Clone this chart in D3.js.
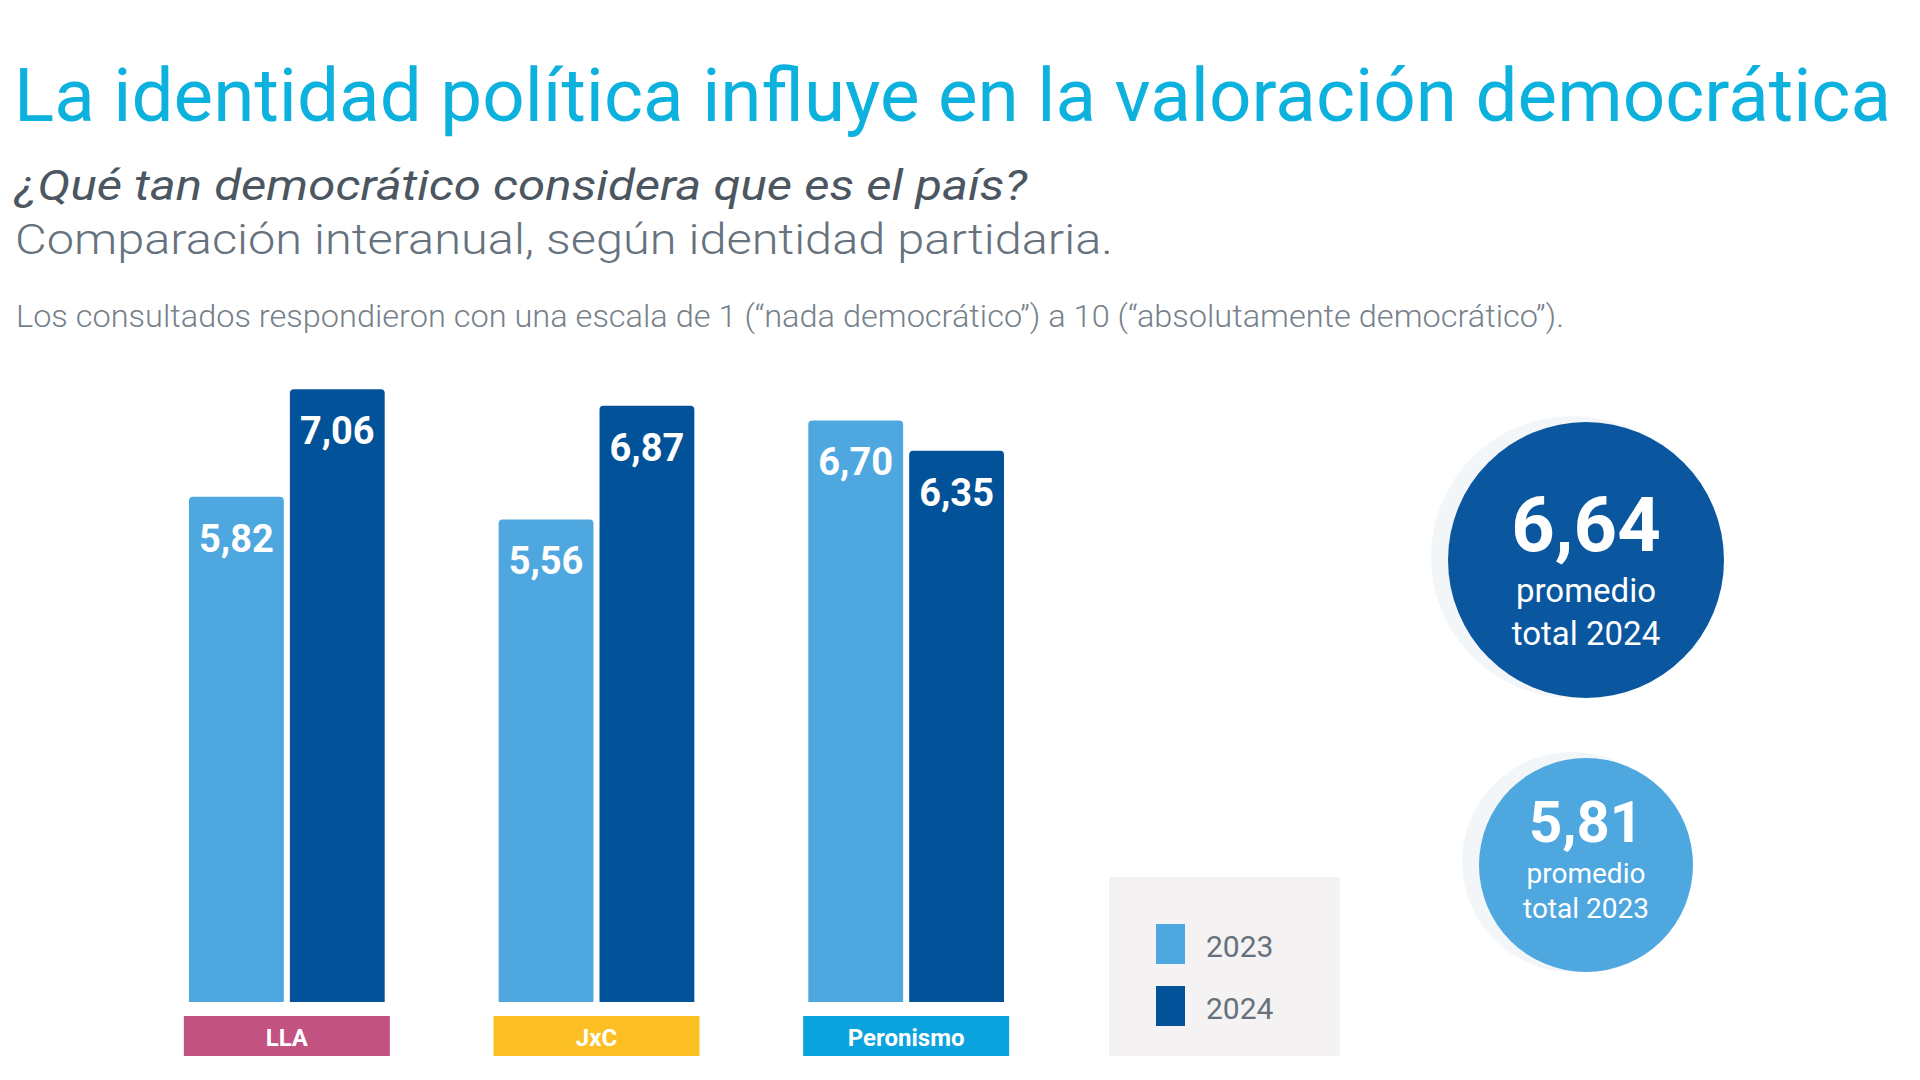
<!DOCTYPE html>
<html>
<head>
<meta charset="utf-8">
<script src="https://cdn.jsdelivr.net/npm/d3@7"></script>
<style>
  body { margin: 0; background: #fff; }
  svg { display: block; font-family: Roboto, "Noto Sans", sans-serif; }
</style>
</head>
<body>
<div id="chart"></div>
<script>
// data
var categories = ["LLA", "JxC", "Peronismo"];
var years = ["2023", "2024"];
var values2023 = [5.82, 5.56, 6.70];
var values2024 = [7.06, 6.87, 6.35];
var totalYears = ["2024", "2023"];
var totalValues = [6.64, 5.81];

var yearColor = {"2023": "#4ea8df", "2024": "#02529a"};
var catColor = {"LLA": "#c2527f", "JxC": "#fcc024", "Peronismo": "#0ba3dd"};

var locale = d3.formatLocale({decimal: ",", thousands: ".", grouping: [3], currency: ["$", ""]});
var fmt = locale.format(".2f");

var width = 1920, height = 1080;

var svg = d3.select("#chart")
  .append("svg")
    .attr("width", width)
    .attr("height", height);

// titles (reference text is a bit stretched, so fit to its width)
svg.append("text")
  .attr("x", 14).attr("y", 121)
  .attr("font-size", 75)
  .attr("fill", "#0db1de")
  .attr("textLength", 1877)
  .attr("lengthAdjust", "spacingAndGlyphs")
  .text("La identidad política influye en la valoración democrática");

svg.append("text")
  .attr("x", 15).attr("y", 200)
  .attr("font-size", 42)
  .attr("font-style", "italic")
  .attr("fill", "#4b5661")
  .attr("textLength", 1012)
  .attr("lengthAdjust", "spacingAndGlyphs")
  .text("¿Qué tan democrático considera que es el país?");

svg.append("text")
  .attr("x", 15).attr("y", 254)
  .attr("font-size", 42)
  .attr("font-weight", 300)
  .attr("fill", "#66727d")
  .attr("textLength", 1098)
  .attr("lengthAdjust", "spacingAndGlyphs")
  .text("Comparación interanual, según identidad partidaria.");

svg.append("text")
  .attr("x", 16).attr("y", 327)
  .attr("font-size", 32)
  .attr("font-weight", 300)
  .attr("fill", "#76818b")
  .attr("textLength", 1548)
  .attr("lengthAdjust", "spacingAndGlyphs")
  .text("Los consultados respondieron con una escala de 1 (“nada democrático”) a 10 (“absolutamente democrático”).");

// scales
var x0 = d3.scaleBand()
  .domain(categories)
  .range([189, 1004])
  .paddingInner(0.368);

var x1 = d3.scaleBand()
  .domain(years)
  .range([0, x0.bandwidth()])
  .paddingInner(0.06);

var y = d3.scaleLinear()
  .domain([0, 10])
  .range([1002, 134]);

var rows = categories.map(function(c, i) {
  return {cat: c, vals: [{year: "2023", v: values2023[i]}, {year: "2024", v: values2024[i]}]};
});

var groups = svg.selectAll(".grp")
  .data(rows)
  .enter()
  .append("g")
    .attr("class", "grp")
    .attr("transform", function(d) { return "translate(" + x0(d.cat) + ",0)"; });

// bars with slightly rounded top corners
groups.selectAll("path.bar")
  .data(function(d) { return d.vals; })
  .enter()
  .append("path")
    .attr("class", "bar")
    .attr("fill", function(d) { return yearColor[d.year]; })
    .attr("d", function(d) {
      var bx = x1(d.year), bw = x1.bandwidth(), top = y(d.v), bot = y(0), r = 4;
      return "M" + bx + "," + bot + "V" + (top + r) + "Q" + bx + "," + top + " " + (bx + r) + "," + top +
        "H" + (bx + bw - r) + "Q" + (bx + bw) + "," + top + " " + (bx + bw) + "," + (top + r) + "V" + bot + "Z";
    });

groups.selectAll("text.val")
  .data(function(d) { return d.vals; })
  .enter()
  .append("text")
    .attr("class", "val")
    .attr("x", function(d) { return x1(d.year) + x1.bandwidth() / 2; })
    .attr("y", function(d) { return y(d.v) + 55; })
    .attr("text-anchor", "middle")
    .attr("font-size", 38)
    .attr("font-weight", 700)
    .attr("fill", "#fff")
    .text(function(d) { return fmt(d.v); });

// category label boxes
groups.append("rect")
  .attr("x", x0.bandwidth() / 2 - 103)
  .attr("y", 1016)
  .attr("width", 206)
  .attr("height", 40)
  .attr("fill", function(d) { return catColor[d.cat]; });

groups.append("text")
  .attr("x", x0.bandwidth() / 2)
  .attr("y", 1046)
  .attr("text-anchor", "middle")
  .attr("font-size", 24)
  .attr("font-weight", 700)
  .attr("fill", "#fff")
  .text(function(d) { return d.cat; });

// legend
var legend = svg.append("g");
legend.append("rect")
  .attr("x", 1109).attr("y", 877)
  .attr("width", 231).attr("height", 179)
  .attr("fill", "#f4f2f2");

var ly = d3.scaleBand().domain(years).range([924, 1026]).paddingInner(0.355);

legend.selectAll("rect.sw")
  .data(years)
  .enter()
  .append("rect")
    .attr("class", "sw")
    .attr("x", 1156)
    .attr("y", function(d) { return ly(d); })
    .attr("width", 29)
    .attr("height", ly.bandwidth())
    .attr("fill", function(d) { return yearColor[d]; });

legend.selectAll("text")
  .data(years)
  .enter()
  .append("text")
    .attr("x", 1206)
    .attr("y", function(d) { return ly(d) + ly.bandwidth() / 2 + 13; })
    .attr("font-size", 30)
    .attr("fill", "#66717c")
    .text(function(d) { return d; });

// total averages circles
var circ = [
  {year: totalYears[0], v: totalValues[0], cy: 560, r: 138, big: 76, small: 33, b1: 551, b2: 602, b3: 645},
  {year: totalYears[1], v: totalValues[1], cy: 865, r: 107, big: 58, small: 28, b1: 842, b2: 883, b3: 918}
];

var cg = svg.selectAll(".tot")
  .data(circ)
  .enter()
  .append("g")
    .attr("class", "tot");

cg.append("circle")
  .attr("cx", 1572)
  .attr("cy", function(d) { return d.cy - 3; })
  .attr("r", function(d) { return d.r + 3; })
  .attr("fill", "#f3f6f9");

cg.append("circle")
  .attr("cx", 1586)
  .attr("cy", function(d) { return d.cy; })
  .attr("r", function(d) { return d.r; })
  .attr("fill", function(d) { return d.year === "2024" ? "#0a57a0" : "#4ea8df"; });

cg.append("text")
  .attr("x", 1586)
  .attr("y", function(d) { return d.b1; })
  .attr("text-anchor", "middle")
  .attr("font-size", function(d) { return d.big; })
  .attr("font-weight", 700)
  .attr("fill", "#fff")
  .text(function(d) { return fmt(d.v); });

cg.append("text")
  .attr("x", 1586)
  .attr("y", function(d) { return d.b2; })
  .attr("text-anchor", "middle")
  .attr("font-size", function(d) { return d.small; })
  .attr("fill", "#fff")
  .text("promedio");

cg.append("text")
  .attr("x", 1586)
  .attr("y", function(d) { return d.b3; })
  .attr("text-anchor", "middle")
  .attr("font-size", function(d) { return d.small; })
  .attr("fill", "#fff")
  .text(function(d) { return "total " + d.year; });
</script>
</body>
</html>
